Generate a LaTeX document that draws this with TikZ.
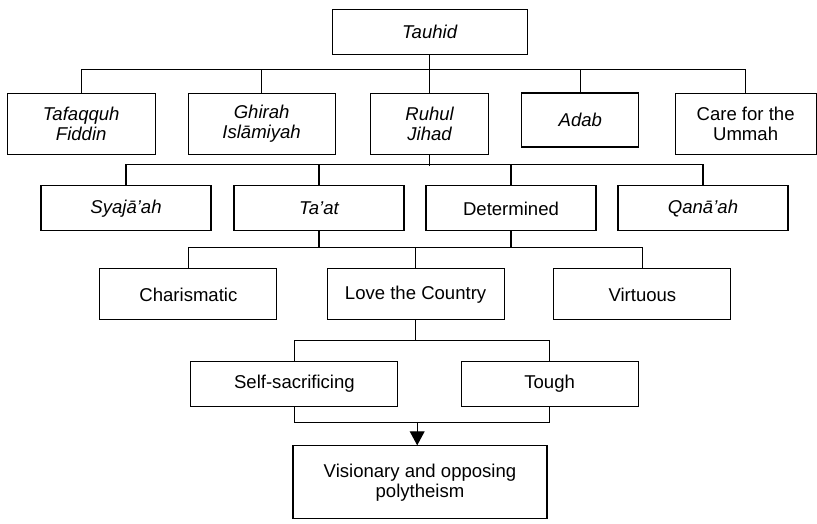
\documentclass[tikz,border=0pt]{standalone}
\usepackage{fontspec}
\setmainfont{Liberation Sans}
\usepackage{tikz}
\usetikzlibrary{arrows.meta}
\tikzstyle{box} = [draw, thick, align=center, inner sep=2pt, font=\fontsize{13.2}{14.2}\selectfont]
\tikzstyle{link} = [thick]

\begin{document}
\begin{tikzpicture}
      \useasboundingbox (0, 0) rectangle (20.425, 13.1);
      \node[box, minimum width=4.875cm, minimum height=1.125cm] (tauhid) at (10.74, 12.31) {\itshape Tauhid};

      \node[box, minimum width=3.7cm, minimum height=1.525cm] (tafaqquh) at (2.03, 10.01) {\itshape Tafaqquh\\ \itshape Fiddin};
      \node[box, minimum width=3.675cm, minimum height=1.525cm] (ghirah) at (6.54, 10.01) {\itshape Ghirah\\ \itshape Islāmiyah};
      \node[box, minimum width=2.95cm, minimum height=1.525cm] (ruhul) at (10.74, 10.01) {\itshape Ruhul\\ \itshape Jihad};
      \node[box, minimum width=2.925cm, minimum height=1.35cm] (adab) at (14.51, 10.1) {\itshape Adab};
      \node[box, minimum width=3.525cm, minimum height=1.525cm] (care) at (18.64, 10.01) {Care for the\\ Ummah};

      \node[box, minimum width=4.25cm, minimum height=1.125cm] (syajaah) at (3.15, 7.89) {\itshape Syajā’ah};
      \node[box, minimum width=4.25cm, minimum height=1.125cm] (taat) at (7.975, 7.89) {\itshape Ta’at};
      \node[box, minimum width=4.25cm, minimum height=1.125cm] (determined) at (12.775, 7.89) {Determined};
      \node[box, minimum width=4.25cm, minimum height=1.125cm] (qanaah) at (17.575, 7.89) {\itshape Qanā’ah};

      \node[box, minimum width=4.425cm, minimum height=1.275cm] (charismatic) at (4.71, 5.74) {Charismatic};
      \node[box, minimum width=4.425cm, minimum height=1.275cm] (love) at (10.39, 5.74) {Love the Country};
      \node[box, minimum width=4.425cm, minimum height=1.275cm] (virtuous) at (16.06, 5.74) {Virtuous};

      \node[box, minimum width=5.175cm, minimum height=1.125cm] (selfsac) at (7.36, 3.51) {Self-sacrificing};
      \node[box, minimum width=4.425cm, minimum height=1.125cm] (tough) at (13.74, 3.51) {Tough};

      \node[box, minimum width=6.35cm, minimum height=1.825cm] (visionary) at (10.5, 1.04) {Visionary and opposing\\ polytheism};
      \coordinate (merge) at (10.43, 2.55);

      % level 1
      \draw[link] (tauhid.south) -- (ruhul.north);
      \draw[link] (tafaqquh.north) -- ++(0, 0.575) -| (care.north);
      \draw[link] (ghirah.north) -- ++(0, 0.575);
      \draw[link] (adab.north) -- ++(0, 0.575);

      % level 2
      \draw[link] (ruhul.south) -- ++(0, -0.275);
      \draw[link] (syajaah.north) -- ++(0, 0.525) -| (qanaah.north);
      \draw[link] (taat.north) -- ++(0, 0.525);
      \draw[link] (determined.north) -- ++(0, 0.525);

      % level 3
      \draw[link] (taat.south) -- ++(0, -0.425);
      \draw[link] (determined.south) -- ++(0, -0.425);
      \draw[link] (charismatic.north) -- ++(0, 0.525) -| (virtuous.north);
      \draw[link] (love.north) -- ++(0, 0.525);

      % level 4
      \draw[link] (love.south) -- ++(0, -0.525);
      \draw[link] (selfsac.north) -- ++(0, 0.5) -| (tough.north);

      % merge into last box
      \draw[link] (selfsac.south) -- ++(0, -0.4) -| (tough.south);
      \draw[link, -{Triangle[length=3.5mm, width=3.7mm]}] (merge) -- (merge |- visionary.north);
    \end{tikzpicture}
\end{document}
